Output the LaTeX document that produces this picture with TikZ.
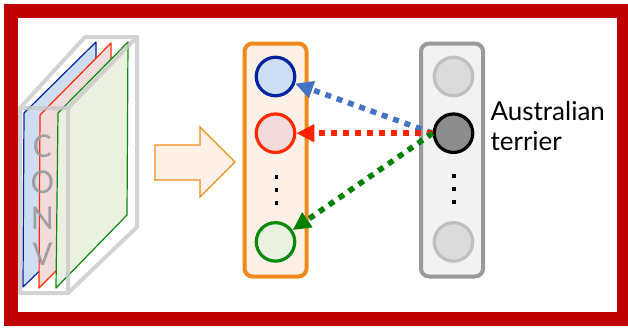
\documentclass[tikz,border=0pt]{standalone}
\usepackage{fontspec}
\setmainfont{Lato}
\newfontfamily\convfont{Carlito}
\usetikzlibrary{positioning,arrows.meta}
\definecolor{framered}{HTML}{C00000}
\definecolor{boxgray}{HTML}{C8C8C8}
\definecolor{convtext}{HTML}{999999}
\definecolor{pblue}{HTML}{0022A0}
\definecolor{pred}{HTML}{FF2A00}
\definecolor{pgreen}{HTML}{0A8A0A}
\definecolor{fblue}{HTML}{CEDDF2}
\definecolor{fred}{HTML}{F2DCDB}
\definecolor{fgreen}{HTML}{EBF1E1}
\definecolor{colorange}{HTML}{EE8A1A}
\definecolor{fillorange}{HTML}{FDF0E6}
\definecolor{arrblue}{HTML}{4472C4}
\definecolor{arrred}{HTML}{FF2200}
\definecolor{arrgreen}{HTML}{008000}
\newcommand{\cvgap}{15pt}
\newcommand{\dotgap}{67pt}

\begin{document}
\begin{tikzpicture}[x=1pt,y=-1pt,
  colbox/.style={rounded corners=8pt,line width=4pt,minimum width=62pt,
                 minimum height=233pt,inner sep=0pt},
  unit/.style={circle,line width=3.2pt,minimum size=38.5pt,inner sep=0pt},
  dotsq/.style={fill=black,minimum size=3.6pt,inner sep=0pt},
  dotted arr/.style={line width=5.5pt,dash pattern=on 6pt off 6pt,
                     -{Triangle[length=18pt,width=17pt]}},
  plane/.style={line width=1.2pt,line join=round}]
  \useasboundingbox (0,0) rectangle (628,327);

  % outer frame
  \draw[framered,line width=14pt] (11,11) rectangle (624,319);

  % conv block
  \draw[plane,pblue,fill=fblue]   (24,113) -- (96,42) -- (96,216) -- (23,287) -- cycle;
  \draw[plane,pred,fill=fred]     (40,115) -- (111,43) -- (111,216) -- (39,288) -- cycle;
  \node (conv) at (42.5,200) [text=convtext,align=center,text opacity=0.9,
        font=\convfont\fontsize{35}{36}\selectfont] {C\\O\\N\\V};
  \draw[plane,pgreen,fill=fgreen] (58,113) -- (128,42) -- (127,215) -- (56,288) -- cycle;
  \draw[boxgray,line width=4pt,opacity=0.8,line join=round]
        (20,108) rectangle (68,293)
        (20,108) -- (85,37) -- (137,37) -- (137,227) -- (68,293)
        (68,108) -- (137,37);

  % big arrow
  \draw[colorange,fill=fillorange,line width=1.2pt]
        (155,145) -- (200,145) -- (200,127) -- (235,162) -- (200,197)
        -- (200,180) -- (155,180) -- cycle;

  % orange column
  \node (ocol) at (275.5,160) [colbox,draw=colorange,fill=fillorange] {};
  \node (o1) at (275.5,76.5) [unit,draw=pblue,fill=fblue] {};
  \node (o2) [below=\cvgap of o1,unit,draw=pred,fill=fred] {};
  \node (o3) [below=\dotgap of o2,unit,draw=pgreen,fill=fgreen] {};
  \foreach \k in {0,1,2}
    \node (od\k) at (276.5,177+13*\k) [dotsq] {};

  % gray column
  \node (tcol) at (452,160) [colbox,draw=black!40,fill=black!5] {};
  \node (t1) at (453.5,76.5) [unit,draw=black!25,fill=black!14] {};
  \node (t2) [below=\cvgap of t1,unit,draw=black,fill=black!45] {};
  \node (t3) [below=\dotgap of t2,unit,draw=black!25,fill=black!14] {};
  \foreach \k in {0,1,2}
    \node (td\k) at (454,176+13*\k) [dotsq] {};

  \node (lbl) [right=16pt of t2,yshift=7pt,align=left,inner sep=0pt,
        font=\fontsize{26}{30}\selectfont] {Australian\\terrier};

  % connectors
  \draw[dotted arr,arrblue]  (t2.west) -- (o1);
  \draw[dotted arr,arrred]   (t2.west) -- (o2);
  \draw[dotted arr,arrgreen] (t2.west) -- (o3);
\end{tikzpicture}
\end{document}
